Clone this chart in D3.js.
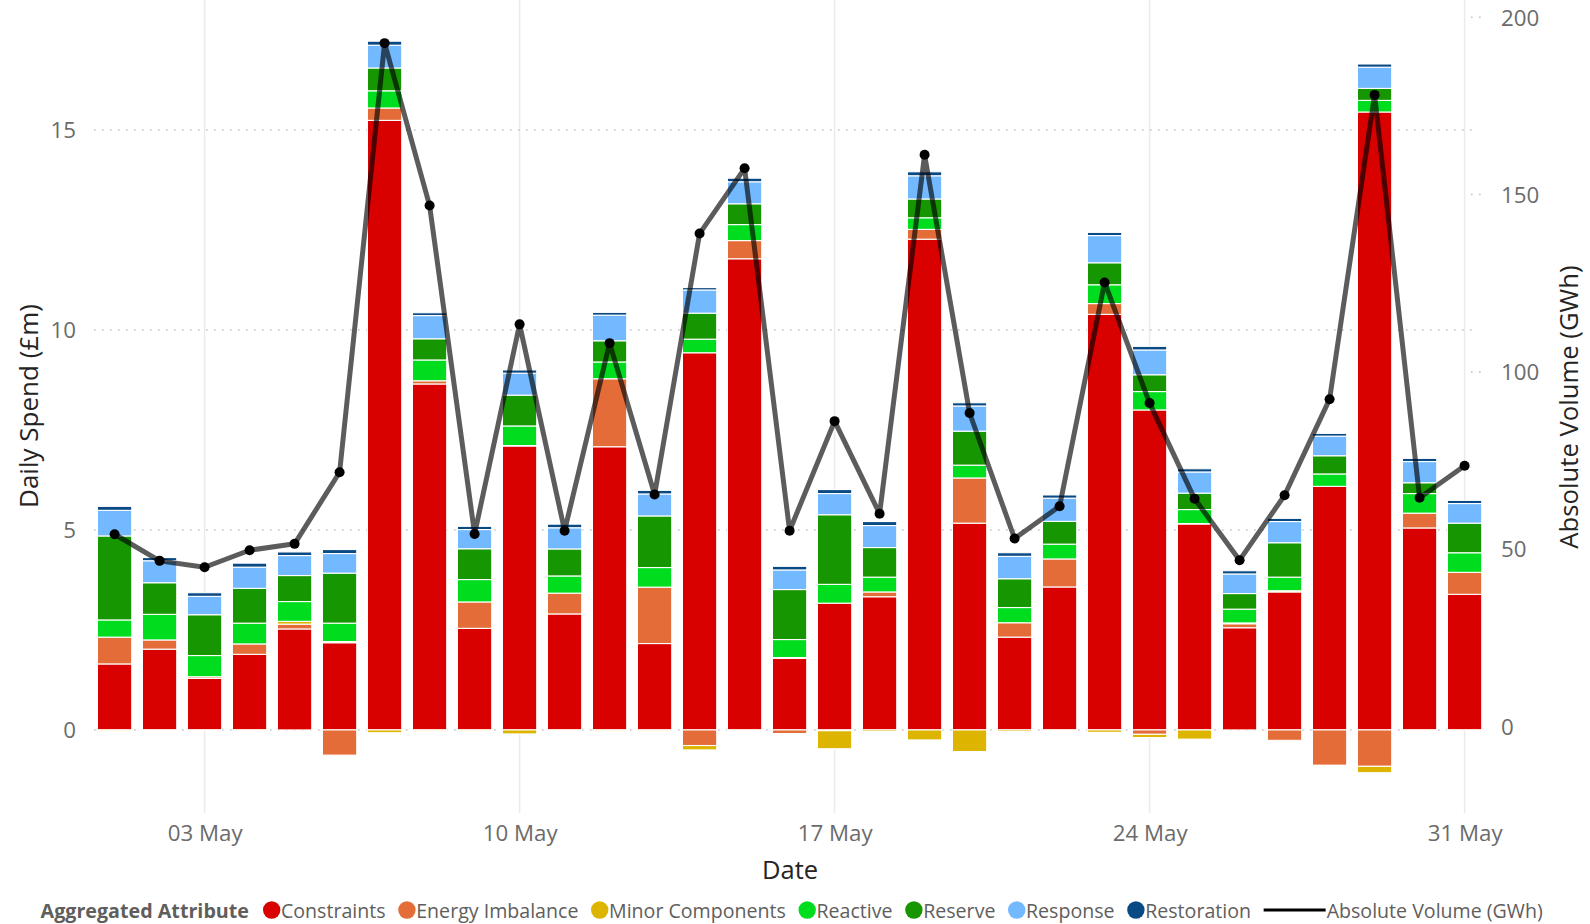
<!DOCTYPE html>
<html>
<head>
<meta charset="utf-8">
<script src="https://cdn.jsdelivr.net/npm/d3@7/dist/d3.min.js"></script>
<style>
  html, body { margin: 0; padding: 0; background: #fff; }
  svg { display: block; font-family: "Open Sans", "Noto Sans", sans-serif; }
</style>
</head>
<body>
<svg id="chart" width="1590" height="924"></svg>
<script>
// Daily balancing spend by attribute (£m) and absolute volume (GWh), May
const days = [
  "2021-05-01","2021-05-02","2021-05-03","2021-05-04","2021-05-05","2021-05-06","2021-05-07",
  "2021-05-08","2021-05-09","2021-05-10","2021-05-11","2021-05-12","2021-05-13","2021-05-14",
  "2021-05-15","2021-05-16","2021-05-17","2021-05-18","2021-05-19","2021-05-20","2021-05-21",
  "2021-05-22","2021-05-23","2021-05-24","2021-05-25","2021-05-26","2021-05-27","2021-05-28",
  "2021-05-29","2021-05-30","2021-05-31"
];
const constraints = [1.65,2.02,1.29,1.89,2.525,2.18,15.24,8.65,2.54,7.10,2.90,7.08,2.16,9.43,11.78,1.79,3.17,3.33,12.27,5.17,2.32,3.575,10.39,8.00,5.15,2.555,3.45,6.09,15.45,5.05,3.39];
const energyImbalance = [0.67,0.23,0.04,0.26,0.12,-0.63,0.31,0.08,0.66,0.01,0.52,1.70,1.41,-0.39,0.455,-0.09,-0.02,0.12,0.245,1.13,0.36,0.70,0.27,-0.11,0.01,0.10,-0.26,-0.885,-0.91,0.37,0.55];
const minorComponents = [-0.03,-0.02,-0.02,-0.01,0.07,0.03,-0.07,-0.03,-0.03,-0.10,-0.01,-0.03,-0.03,-0.11,-0.01,0.02,-0.45,-0.04,-0.25,-0.54,-0.04,-0.02,-0.06,-0.08,-0.23,0.02,0.03,-0.01,-0.16,-0.01,-0.01];
const reactive = [0.43,0.64,0.53,0.52,0.495,0.46,0.43,0.52,0.56,0.49,0.43,0.42,0.49,0.34,0.40,0.45,0.47,0.37,0.29,0.32,0.38,0.37,0.47,0.46,0.35,0.345,0.34,0.31,0.29,0.49,0.49];
const reserve = [2.10,0.79,1.02,0.87,0.65,1.25,0.57,0.53,0.77,0.77,0.675,0.53,1.29,0.65,0.52,1.25,1.74,0.74,0.47,0.85,0.72,0.57,0.55,0.42,0.41,0.39,0.86,0.455,0.30,0.27,0.74];
const response = [0.64,0.55,0.46,0.53,0.50,0.49,0.57,0.58,0.48,0.55,0.53,0.64,0.55,0.58,0.55,0.49,0.53,0.55,0.58,0.63,0.56,0.58,0.68,0.62,0.53,0.49,0.53,0.49,0.53,0.53,0.49];
const restoration = [0.10,0.08,0.09,0.10,0.09,0.10,0.10,0.07,0.08,0.08,0.09,0.07,0.09,0.06,0.09,0.09,0.10,0.10,0.10,0.08,0.09,0.08,0.08,0.09,0.08,0.08,0.08,0.07,0.08,0.08,0.08];
const absoluteVolume = [54.2,46.7,44.9,49.7,51.5,71.7,192.7,146.9,54.3,113.4,55.2,108.1,65.4,139.0,157.4,55.2,86.1,60.0,161.2,88.4,53.0,62.1,125.2,91.2,64.2,46.9,65.2,92.3,178.1,64.5,73.5];

const seriesNames = ["Constraints","Energy Imbalance","Minor Components","Reactive","Reserve","Response","Restoration"];
const seriesValues = [constraints, energyImbalance, minorComponents, reactive, reserve, response, restoration];
const seriesColors = ["#D90000","#E36C38","#DDB400","#00DC1E","#169600","#72B9FF","#0A4A84"];

const spendTicks = [0, 5, 10, 15];
const volumeTicks = [0, 50, 100, 150, 200];
const dateTicks = ["2021-05-03","2021-05-10","2021-05-17","2021-05-24","2021-05-31"];

const parse = d3.timeParse("%Y-%m-%d");
const rows = days.map((d, i) => {
  const r = { date: parse(d), volume: absoluteVolume[i] };
  seriesNames.forEach((s, k) => r[s] = seriesValues[k][i]);
  return r;
});

const svg = d3.select("#chart");

// scales
const x = d3.scaleTime().domain([parse(days[0]), parse(days[days.length - 1])]).range([114.6, 1464.6]);
const barW = 34.3;
const yL = d3.scaleLinear().domain([-2.077, 18.2]).range([813, 2]);
const yR = d3.scaleLinear().domain([-24.4, 204.3]).range([813, 2]);
const gridX0 = 94, gridX1 = 1478;

// vertical gridlines at date ticks
svg.append("g").selectAll("line").data(dateTicks.map(parse)).join("line")
  .attr("x1", d => x(d)).attr("x2", d => x(d))
  .attr("y1", 0).attr("y2", 813)
  .attr("stroke", "#EBEBEB").attr("stroke-width", 1.5);

// horizontal dotted gridlines (spend axis)
svg.append("g").selectAll("line").data(spendTicks).join("line")
  .attr("x1", gridX0).attr("x2", gridX1)
  .attr("y1", d => yL(d)).attr("y2", d => yL(d))
  .attr("stroke", "#C4C4C4").attr("stroke-width", 1.6)
  .attr("stroke-dasharray", "1.6,6.4");

// short dotted marks for the volume axis
svg.append("g").selectAll("line").data(volumeTicks).join("line")
  .attr("x1", 1471).attr("x2", 1487)
  .attr("y1", d => yR(d)).attr("y2", d => yR(d))
  .attr("stroke", "#C4C4C4").attr("stroke-width", 1.6)
  .attr("stroke-dasharray", "1.6,6.4");

// stacked bars (positives up, negatives down)
const stack = d3.stack().keys(seriesNames).offset(d3.stackOffsetDiverging);
const stacked = stack(rows);
svg.append("g").selectAll("g").data(stacked).join("g")
  .attr("fill", (d, i) => seriesColors[i])
  .selectAll("rect").data(d => d.filter(p => Math.abs(p[1] - p[0]) > 1e-9)).join("rect")
  .attr("x", d => x(d.data.date) - barW / 2)
  .attr("width", barW)
  .attr("y", d => yL(Math.max(d[0], d[1])))
  .attr("height", d => Math.abs(yL(d[0]) - yL(d[1])))
  .attr("stroke", "#fff").attr("stroke-width", 1.1);

// volume line
const line = d3.line().x(d => x(d.date)).y(d => yR(d.volume));
svg.append("path").datum(rows)
  .attr("d", line)
  .attr("fill", "none")
  .attr("stroke", "#000").attr("stroke-opacity", 0.64)
  .attr("stroke-width", 5).attr("stroke-linejoin", "round");
svg.append("g").selectAll("circle").data(rows).join("circle")
  .attr("cx", d => x(d.date)).attr("cy", d => yR(d.volume))
  .attr("r", 5).attr("fill", "#000");

// axes
const tickColor = "#6B6B6B";
const tickSize = 22.3;
const yAxisL = d3.axisLeft(yL).tickValues(spendTicks).tickSize(0).tickPadding(0);
svg.append("g").attr("transform", "translate(76,0)").call(yAxisL)
  .call(g => g.select(".domain").remove())
  .call(g => g.selectAll("text").attr("fill", tickColor).attr("font-size", tickSize)
    .attr("font-family", "Open Sans").attr("dy", "0.35em"));

const yAxisR = d3.axisRight(yR).tickValues(volumeTicks).tickSize(0).tickPadding(0);
svg.append("g").attr("transform", "translate(1501,0)").call(yAxisR)
  .call(g => g.select(".domain").remove())
  .call(g => g.selectAll("text").attr("fill", tickColor).attr("font-size", tickSize)
    .attr("font-family", "Open Sans").attr("dy", "0.35em"));

const xAxis = d3.axisBottom(x).tickValues(dateTicks.map(parse)).tickFormat(d3.timeFormat("%d %b")).tickSize(0).tickPadding(0);
svg.append("g").attr("transform", "translate(0,833)").call(xAxis)
  .call(g => g.select(".domain").remove())
  .call(g => g.selectAll("text").attr("fill", tickColor).attr("font-size", tickSize)
    .attr("font-family", "Open Sans").attr("dy", "0.35em"));

// axis titles
const titleColor = "#252423";
svg.append("text").attr("transform", "translate(28,406) rotate(-90)")
  .attr("text-anchor", "middle").attr("dominant-baseline", "central")
  .attr("font-size", 26).attr("fill", titleColor).text("Daily Spend (£m)");
svg.append("text").attr("transform", "translate(1568,407) rotate(-90)")
  .attr("text-anchor", "middle").attr("dominant-baseline", "central")
  .attr("font-size", 25.7).attr("fill", titleColor).text("Absolute Volume (GWh)");
svg.append("text").attr("x", 790).attr("y", 869)
  .attr("text-anchor", "middle").attr("dominant-baseline", "central")
  .attr("font-size", 25.5).attr("fill", titleColor).text("Date");

// legend
const legendY = 910;
const legendSize = 19.6;
const legend = svg.append("g");
let lx = 40.6;
const legTitle = legend.append("text").attr("x", lx).attr("y", legendY)
  .attr("dominant-baseline", "central").attr("font-size", 19.7).attr("font-weight", "bold")
  .attr("fill", "#605E5C").text("Aggregated Attribute");
lx += legTitle.node().getComputedTextLength() + 14;
seriesNames.forEach((name, i) => {
  legend.append("circle").attr("cx", lx + 8.7).attr("cy", legendY).attr("r", 8.7).attr("fill", seriesColors[i]);
  const t = legend.append("text").attr("x", lx + 17.4 + 0.6).attr("y", legendY)
    .attr("dominant-baseline", "central").attr("font-size", legendSize).attr("fill", "#605E5C").text(name);
  lx += 18 + t.node().getComputedTextLength() + 12.6;
});
legend.append("line").attr("x1", lx).attr("x2", lx + 62).attr("y1", legendY).attr("y2", legendY)
  .attr("stroke", "#000").attr("stroke-width", 3);
legend.append("text").attr("x", lx + 63).attr("y", legendY)
  .attr("dominant-baseline", "central").attr("font-size", legendSize).attr("fill", "#605E5C").text("Absolute Volume (GWh)");
</script>
</body>
</html>
